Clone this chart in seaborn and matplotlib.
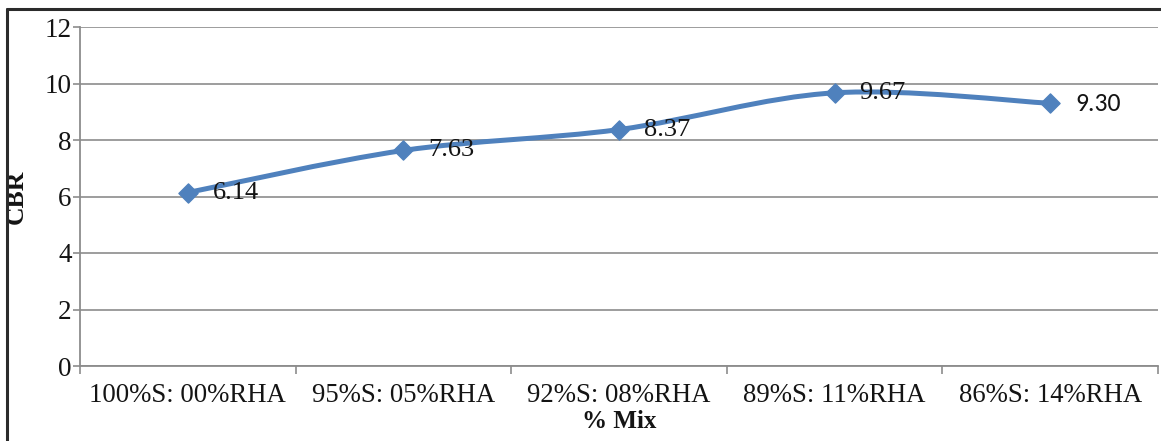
import numpy as np
import pandas as pd
import matplotlib
matplotlib.use("Agg")
import matplotlib.pyplot as plt
from matplotlib.path import Path
from matplotlib.patches import PathPatch
from matplotlib.lines import Line2D
import seaborn as sns

# Mix proportions (soil : rice husk ash) and measured CBR values
mixes = ["100%S: 00%RHA", "95%S: 05%RHA", "92%S: 08%RHA", "89%S: 11%RHA", "86%S: 14%RHA"]
cbr = [6.14, 7.63, 8.37, 9.67, 9.30]
cbr_labels = ["6.14", "7.63", "8.37", "9.67", "9.30"]
y_ticks = [0, 2, 4, 6, 8, 10, 12]

sns.set_theme(style="white")
plt.rcParams["font.family"] = ["Liberation Serif", "DejaVu Serif"]

BLUE = "#4F81BD"
GRID = "#8C8C8C"
TEXT = "#141414"

df = pd.DataFrame({"mix": mixes, "cbr": cbr, "pos": np.arange(len(mixes))})

fig = plt.figure(figsize=(11.61, 4.41), dpi=100)
ax = fig.add_axes([80 / 1161, 75 / 441, 1078 / 1161, 339 / 441])

# Smoothed connecting line: Catmull-Rom segments expressed as cubic Bezier curves
pts = np.column_stack([df["pos"].to_numpy(float), df["cbr"].to_numpy(float)])
ext = np.vstack([pts[0], pts, pts[-1]])
verts = [tuple(pts[0])]
codes = [Path.MOVETO]
for i in range(len(pts) - 1):
    p0, p1, p2, p3 = ext[i], ext[i + 1], ext[i + 2], ext[i + 3]
    c1 = p1 + (p2 - p0) / 6.0
    c2 = p2 - (p3 - p1) / 6.0
    verts += [tuple(c1), tuple(c2), tuple(p2)]
    codes += [Path.CURVE4] * 3
ax.add_patch(PathPatch(Path(verts, codes), fill=False, edgecolor=BLUE,
                       linewidth=3.6, capstyle="round", joinstyle="round", zorder=3))

# Diamond markers
sns.scatterplot(data=df, x="pos", y="cbr", marker="D", s=95, color=BLUE,
                edgecolor=BLUE, linewidth=1, ax=ax, zorder=4, legend=False)

# Value labels to the right of each point
label_fonts = [["Liberation Serif"]] * 4 + [["Carlito", "Liberation Sans"]]
label_sizes = [19, 19, 19, 19, 18.5]
for x, y, t, fam, fs in zip(df["pos"], df["cbr"], cbr_labels, label_fonts, label_sizes):
    ax.annotate(t, (x, y), xytext=(18, 0), textcoords="offset points",
                ha="left", va="center", fontsize=fs, color=TEXT,
                family=fam, zorder=5)

ax.set_xlim(-0.5, len(mixes) - 0.5)
ax.set_ylim(0, 12)
ax.set_yticks(y_ticks)
ax.set_yticklabels([str(v) for v in y_ticks], fontsize=19.5, color=TEXT)
ax.set_xticks(df["pos"])
ax.set_xticklabels(mixes, fontsize=19.3, color=TEXT)
ax.set_xticks(np.arange(-0.5, len(mixes)), minor=True)

ax.yaxis.grid(True, color=GRID, linewidth=1.2)
ax.xaxis.grid(False)
ax.set_axisbelow(True)

for side in ["top", "right"]:
    ax.spines[side].set_visible(False)
for side in ["left", "bottom"]:
    ax.spines[side].set_color(GRID)
    ax.spines[side].set_linewidth(1.3)

ax.tick_params(axis="y", which="major", direction="out", length=5, width=1.2,
               color=GRID, pad=1, left=True)
ax.tick_params(axis="x", which="major", length=0, pad=12)
ax.tick_params(axis="x", which="minor", direction="out", length=6, width=1.2,
               color=GRID, bottom=True)

ax.set_xlabel("% Mix", fontsize=18, fontweight="bold", color=TEXT, labelpad=2)
ax.set_ylabel("CBR", fontsize=18.5, fontweight="bold", color=TEXT, labelpad=12)

# Frame around the chart area (top and left edges)
fig.add_artist(Line2D([6.5 / 1161, 1.0], [1 - 8.5 / 441, 1 - 8.5 / 441],
                      transform=fig.transFigure, color="#2b2b2b", linewidth=2.2))
fig.add_artist(Line2D([6.5 / 1161, 6.5 / 1161], [0.0, 1 - 8.5 / 441],
                      transform=fig.transFigure, color="#2b2b2b", linewidth=2.2))

fig.savefig("out.png", dpi=100, facecolor="white")
